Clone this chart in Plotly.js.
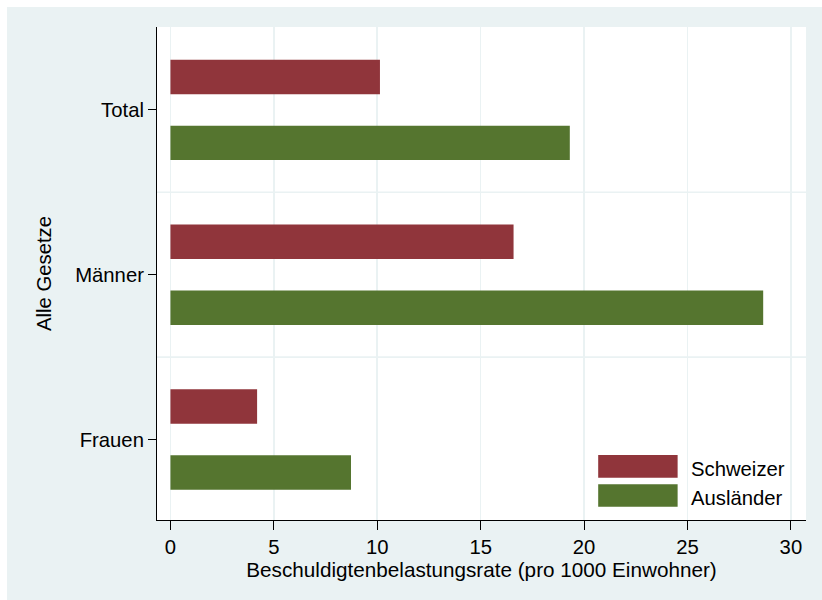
<!DOCTYPE html>
<html>
<head>
<meta charset="utf-8">
<script src="https://cdn.plot.ly/plotly-3.0.1.min.js"></script>
<style>
  html, body { margin: 0; padding: 0; background: #ffffff; }
  #chart { position: absolute; left: 7px; top: 7px; width: 815px; height: 593px; }
</style>
</head>
<body>
<div id="chart"></div>
<script>
// Data
const categories = ["Total", "Männer", "Frauen"];
const schweizerValues = [10.13, 16.59, 4.19];
const auslaenderValues = [19.31, 28.66, 8.73];
const seriesNames = ["Schweizer", "Ausländer"];
const xTickValues = [0, 5, 10, 15, 20, 25, 30];
const xTitle = "Beschuldigtenbelastungsrate (pro 1000 Einwohner)";
const yTitle = "Alle Gesetze";

const colRed = "#90353B";
const colGreen = "#55752F";
const bg = "#EAF2F3";
const font = "Liberation Sans, Arial, Helvetica, sans-serif";

const traces = [
  {
    type: "bar", orientation: "h", name: seriesNames[0],
    y: categories, x: schweizerValues,
    marker: { color: colRed, line: { width: 0 } },
    showlegend: false, hoverinfo: "x+name"
  },
  {
    type: "bar", orientation: "h", name: seriesNames[1],
    y: categories, x: auslaenderValues,
    marker: { color: colGreen, line: { width: 0 } },
    showlegend: false, hoverinfo: "x+name"
  }
];

// legend drawn as swatches + labels
const legendSw = [
  { color: colRed, y0: 0.0859, y1: 0.1319, ty: 0.1035 },
  { color: colGreen, y0: 0.0270, y1: 0.0725, ty: 0.0447 }
];

const shapes = [
  { type: "line", xref: "paper", x0: 0, x1: 1, yref: "y", y0: 0.5, y1: 0.5,
    line: { color: bg, width: 1.6 }, layer: "below" },
  { type: "line", xref: "paper", x0: 0, x1: 1, yref: "y", y0: 1.5, y1: 1.5,
    line: { color: bg, width: 1.6 }, layer: "below" }
];
const annotations = [];
legendSw.forEach((s, i) => {
  shapes.push({ type: "rect", xref: "paper", yref: "paper",
    x0: 0.6798, x1: 0.8022, y0: s.y0, y1: s.y1,
    fillcolor: s.color, line: { width: 0 }, layer: "above" });
  annotations.push({ xref: "paper", yref: "paper", x: 0.8195, y: s.ty,
    xanchor: "left", yanchor: "middle", showarrow: false,
    text: seriesNames[i], font: { family: font, size: 20.3, color: "#000" } });
});

const layout = {
  width: 815, height: 593,
  paper_bgcolor: bg, plot_bgcolor: "#ffffff",
  margin: { l: 150.3, r: 16, t: 20.3, b: 80, pad: 0 },
  font: { family: font, size: 20, color: "#000" },
  barmode: "group", bargap: 0.2, bargroupgap: 0.477,
  showlegend: false,
  xaxis: {
    range: [-0.65, 30.73], tickvals: xTickValues, ticktext: xTickValues.map(String),
    showgrid: true, gridcolor: bg, gridwidth: 1.6, zeroline: false,
    showline: true, linecolor: "#000", linewidth: 1,
    ticks: "outside", ticklen: 9, tickwidth: 1, tickcolor: "#000",
    tickfont: { family: font, size: 20.3, color: "#000" },
    title: { text: xTitle, font: { family: font, size: 20.7, color: "#000" }, standoff: 1 }
  },
  yaxis: {
    type: "category", categoryorder: "array", categoryarray: categories,
    range: [2.488, -0.503],
    showgrid: false, zeroline: false,
    showline: true, linecolor: "#000", linewidth: 1,
    ticks: "outside", ticklen: 8, tickwidth: 1, tickcolor: "#000",
    ticklabelstandoff: 0,
    tickfont: { family: font, size: 20.3, color: "#000" },
    title: { text: yTitle, font: { family: font, size: 20.3, color: "#000" }, standoff: 18 }
  },
  shapes: shapes,
  annotations: annotations
};

Plotly.newPlot("chart", traces, layout, { displayModeBar: false, staticPlot: true });
</script>
</body>
</html>
